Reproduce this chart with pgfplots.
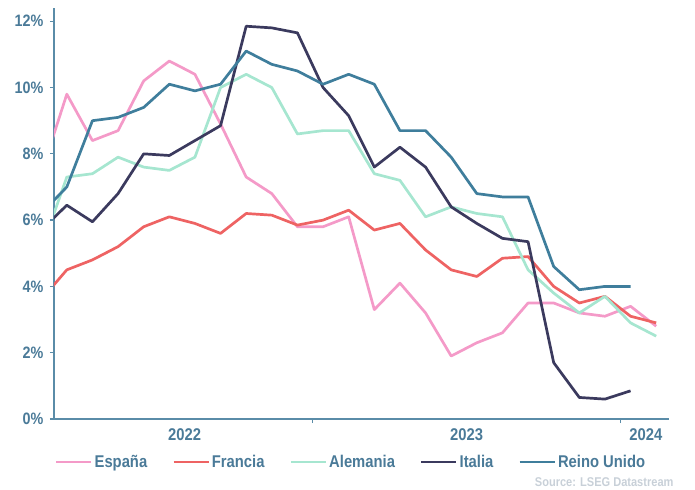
\documentclass[border=0pt]{standalone}
\usepackage{fontspec}
\setmainfont{Liberation Sans}[FakeStretch=0.87]
\usepackage{pgfplots}
\pgfplotsset{compat=1.18}
\definecolor{axisc}{HTML}{5A8CA8}
\definecolor{labc}{HTML}{4A7A98}
\definecolor{srcc}{HTML}{C8D0D8}
\definecolor{cesp}{HTML}{F49AC8}
\definecolor{cfra}{HTML}{EE6363}
\definecolor{cale}{HTML}{A6E6D0}
\definecolor{cita}{HTML}{3B3A5E}
\definecolor{cuk}{HTML}{3F7E9C}
\begin{document}
\begin{tikzpicture}
\path[use as bounding box] (-54bp,-71bp) rectangle (641bp,419bp);
\begin{axis}[
  at={(0,0)}, anchor=south west,
  scale only axis, width=615bp, height=411bp,
  xmin=-0.5, xmax=23.5, ymin=0, ymax=12.4,
  axis x line*=bottom, axis y line*=left,
  axis line style={axisc, line width=1.3bp},
  every tick/.style={axisc, line width=1.3bp},
  tick align=outside, major tick length=4bp,
  /pgf/number format/assume math mode=true,
  ytick={0,2,...,12},
  yticklabel={\pgfmathprintnumber{\tick}\%},
  yticklabel style={text=labc, font=\fontsize{16.5bp}{16.5bp}\selectfont\bfseries, xshift=-3bp},
  xtick={9.6,21.6}, xticklabels={},
  extra x ticks={4.6,15.6,22.6},
  extra x tick labels={2022,2023,2024},
  extra x tick style={tick style={draw=none}},
  xticklabel style={text=labc, font=\fontsize{17bp}{17bp}\selectfont\bfseries, yshift=-2bp},
  legend style={at={(0.483,0)}, yshift=-43bp, anchor=center, draw=none, fill=none,
    font=\fontsize{17bp}{17bp}\selectfont\bfseries, text=labc,
    /tikz/every even column/.append style={column sep=23bp}},
  legend columns=5,
  legend image code/.code={\draw[#1] (0bp,0bp) -- (35bp,0bp);},
  every axis plot/.append style={line width=2.7bp, line join=round},
]
\addplot[cesp] coordinates {(-1,7.4)(0,9.8)(1,8.4)(2,8.7)(3,10.2)(4,10.8)(5,10.4)(6,8.9)(7,7.3)(8,6.8)(9,5.8)(10,5.8)(11,6.1)(12,3.3)(13,4.1)(14,3.2)(15,1.9)(16,2.3)(17,2.6)(18,3.5)(19,3.5)(20,3.2)(21,3.1)(22,3.4)(23,2.8)};
\addlegendentry{España}
\addplot[cfra] coordinates {(-1,3.6)(0,4.5)(1,4.8)(2,5.2)(3,5.8)(4,6.1)(5,5.9)(6,5.6)(7,6.2)(8,6.15)(9,5.85)(10,6.0)(11,6.3)(12,5.7)(13,5.9)(14,5.1)(15,4.5)(16,4.3)(17,4.85)(18,4.9)(19,4.0)(20,3.5)(21,3.7)(22,3.1)(23,2.9)};
\addlegendentry{Francia}
\addplot[cale] coordinates {(-1,5.1)(0,7.3)(1,7.4)(2,7.9)(3,7.6)(4,7.5)(5,7.9)(6,10.0)(7,10.4)(8,10.0)(9,8.6)(10,8.7)(11,8.7)(12,7.4)(13,7.2)(14,6.1)(15,6.4)(16,6.2)(17,6.1)(18,4.5)(19,3.8)(20,3.2)(21,3.7)(22,2.9)(23,2.5)};
\addlegendentry{Alemania}
\addplot[cita] coordinates {(-1,5.7)(0,6.45)(1,5.95)(2,6.8)(3,8.0)(4,7.95)(5,8.4)(6,8.85)(7,11.85)(8,11.8)(9,11.65)(10,10.0)(11,9.15)(12,7.6)(13,8.2)(14,7.6)(15,6.4)(16,5.9)(17,5.45)(18,5.35)(19,1.7)(20,0.65)(21,0.6)(22,0.85)};
\addlegendentry{Italia}
\addplot[cuk] coordinates {(-1,6.2)(0,7.0)(1,9.0)(2,9.1)(3,9.4)(4,10.1)(5,9.9)(6,10.1)(7,11.1)(8,10.7)(9,10.5)(10,10.1)(11,10.4)(12,10.1)(13,8.7)(14,8.7)(15,7.9)(16,6.8)(17,6.7)(18,6.7)(19,4.6)(20,3.9)(21,4.0)(22,4.0)};
\addlegendentry{Reino Unido}
\end{axis}
\node[anchor=east, text=srcc, font=\fontsize{12.7bp}{12.7bp}\selectfont\bfseries] at (623bp,-63bp) {Source: LSEG Datastream};
\end{tikzpicture}
\end{document}
